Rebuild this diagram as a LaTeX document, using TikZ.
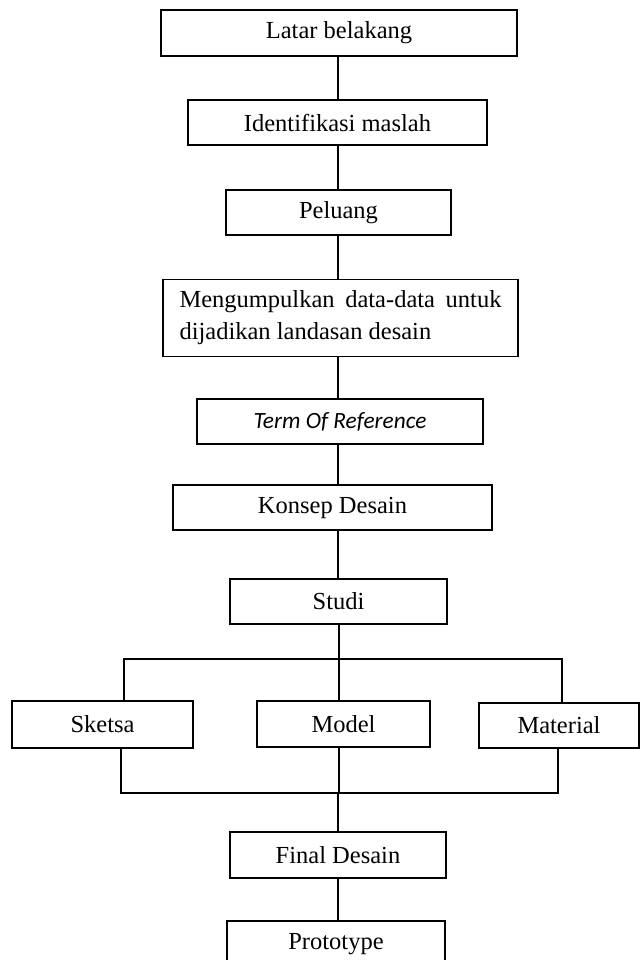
\documentclass[tikz,border=0pt]{standalone}
\usepackage{fontspec}
\setmainfont{Liberation Serif}
\newfontfamily\calib{Carlito}
\begin{document}
\begin{tikzpicture}[x=1pt,y=-1pt,
  box/.style={draw, line width=1.1pt, inner sep=0pt, font=\fontsize{24.5}{32}\selectfont},
  conn/.style={line width=1.1pt}]
\useasboundingbox (0,0) rectangle (641,960);
\clip (0,0) rectangle (641,960);
% trunk coordinate
\coordinate (tr) at (338,0);
\node[box, minimum width=356pt, minimum height=46pt] (latar) at (339,33) {Latar belakang};
\node[box, minimum width=299pt, minimum height=45pt] (ident) at (337.5,122.5) {Identifikasi maslah};
\node[box, minimum width=225pt, minimum height=45pt] (peluang) at (338.5,212.5) {Peluang};
\node[box, minimum width=355pt, minimum height=77pt, align=left] (kumpul) at (340.5,318)
  {\makebox[322pt][s]{Mengumpulkan data-data untuk}\\dijadikan landasan desain};
\node[box, minimum width=286pt, minimum height=45pt, font=\calib\itshape\fontsize{23.3}{28}\selectfont] (tor) at (340,421.5) {Term Of Reference};
\node[box, minimum width=319pt, minimum height=45pt] (konsep) at (332.5,507.5) {Konsep Desain};
\node[box, minimum width=217pt, minimum height=45pt] (studi) at (338.5,601.5) {Studi};
\node[box, minimum width=181pt, minimum height=47pt] (sketsa) at (102.5,724.5) {Sketsa};
\node[box, minimum width=173pt, minimum height=46pt] (model) at (343.5,724) {Model};
\node[box, minimum width=160pt, minimum height=45pt] (material) at (559,725.5) {Material};
\node[box, minimum width=216pt, minimum height=46pt] (final) at (338,855) {Final Desain};
\node[box, minimum width=218pt, minimum height=46pt] (proto) at (336,944) {Prototype};
% vertical connectors
\draw[conn] (latar.south -| tr) -- (ident.north -| tr);
\draw[conn] (ident.south -| tr) -- (peluang.north -| tr);
\draw[conn] (peluang.south -| tr) -- (kumpul.north -| tr);
\draw[conn] (kumpul.south -| tr) -- (tor.north -| tr);
\draw[conn] (tor.south -| tr) -- (konsep.north -| tr);
\draw[conn] (konsep.south -| tr) -- (studi.north -| tr);
% upper branch
\coordinate (mc) at (339,0);
\coordinate (upL) at (124,659);
\coordinate (upR) at (562,659);
\draw[conn] (studi.south -| mc) -- (model.north -| mc);
\draw[conn] (sketsa.north -| upL) -- (upL) -- (upR) -- (material.north -| upR);
% lower branch
\coordinate (loL) at (121,793);
\coordinate (loR) at (558,793);
\draw[conn] (sketsa.south -| loL) -- (loL) -- (loR) -- (material.south -| loR);
\draw[conn] (model.south -| mc) -- (mc |- loL);
\draw[conn] (loL -| tr) -- (final.north -| tr);
\draw[conn] (final.south -| tr) -- (proto.north -| tr);
\end{tikzpicture}
\end{document}
